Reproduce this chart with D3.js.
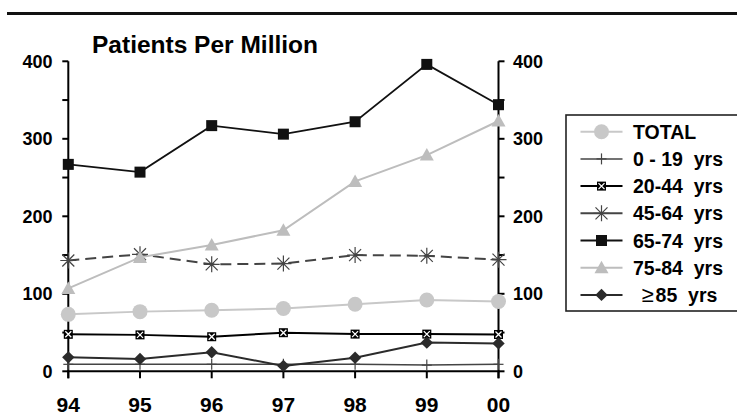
<!DOCTYPE html>
<html>
<head>
<meta charset="utf-8">
<script src="https://cdn.jsdelivr.net/npm/d3@7"></script>
<style>
  html, body { margin: 0; padding: 0; background: #fff; }
  svg text { font-family: "Liberation Sans", Arial, sans-serif; font-weight: bold; fill: #000; white-space: pre; }
</style>
</head>
<body>
<svg id="chart" width="737" height="416"></svg>
<script>
// Patients per million by age group, 1994-2000
const years = ["94", "95", "96", "97", "98", "99", "00"];
const total   = [73.5, 77, 78.7, 81, 86.5, 92, 90];
const age0_19 = [9, 9, 9, 9, 9, 8, 9];
const age20_44 = [47.7, 47, 44.6, 49.8, 48, 48, 47.5];
const age45_64 = [143, 151, 138, 139, 150, 149, 144];
const age65_74 = [267, 257, 317, 306, 322, 396, 344];
const age75_84 = [107, 147, 163, 182, 245, 279, 323];
const age85plus = [18, 16, 24.5, 7, 17.5, 37, 36];
const majorTicks = [0, 100, 200, 300, 400];
const minorTicks = [50, 150, 250, 350];
const seriesNames = ["TOTAL", "0 - 19  yrs", "20-44  yrs", "45-64  yrs", "65-74  yrs", "75-84  yrs", "85  yrs"];

const svg = d3.select("#chart");

const x = d3.scalePoint().domain(years).range([68.3, 498.5]);
const y = d3.scaleLinear().domain([0, 400]).range([371.3, 61.3]);

// heavy rule across the top
svg.append("line").attr("x1", 7).attr("x2", 737).attr("y1", 13.5).attr("y2", 13.5)
  .attr("stroke", "#111").attr("stroke-width", 3);

// title
svg.append("text").attr("x", 92).attr("y", 52.5).attr("font-size", 24.5).text("Patients Per Million");

// marker shapes
function marker(g, type, px, py) {
  if (type === "circle") {
    g.append("circle").attr("cx", px).attr("cy", py).attr("r", 7.5).attr("fill", "#c8c8c8");
  } else if (type === "plus") {
    g.append("line").attr("x1", px).attr("x2", px).attr("y1", py - 5.5).attr("y2", py + 5.5)
      .attr("stroke", "#444").attr("stroke-width", 1.2);
    g.append("line").attr("x1", px - 5).attr("x2", px + 5).attr("y1", py).attr("y2", py)
      .attr("stroke", "#444").attr("stroke-width", 1.2);
  } else if (type === "xsquare") {
    const s = 4.5;
    g.append("rect").attr("x", px - s).attr("y", py - s).attr("width", 2 * s).attr("height", 2 * s).attr("fill", "#000");
    g.append("path").attr("d", `M${px - 3},${py - 3}L${px + 3},${py + 3}M${px - 3},${py + 3}L${px + 3},${py - 3}`)
      .attr("stroke", "#fff").attr("stroke-width", 1.3);
  } else if (type === "star") {
    const r = 8, d = 6;
    g.append("path").attr("d", `M${px},${py - r}L${px},${py + r}M${px - d},${py - d}L${px + d},${py + d}M${px - d},${py + d}L${px + d},${py - d}M${px - r},${py}L${px + r},${py}`)
      .attr("stroke", "#444").attr("stroke-width", 1.2).attr("fill", "none");
  } else if (type === "square") {
    const s = 5.5;
    g.append("rect").attr("x", px - s).attr("y", py - s).attr("width", 2 * s).attr("height", 2 * s).attr("fill", "#111");
  } else if (type === "triangle") {
    g.append("path").attr("d", `M${px},${py - 7}L${px + 7},${py + 5.5}L${px - 7},${py + 5.5}Z`).attr("fill", "#bdbdbd");
  } else if (type === "diamond") {
    const r = 6.2;
    g.append("path").attr("d", `M${px},${py - r}L${px + r},${py}L${px},${py + r}L${px - r},${py}Z`).attr("fill", "#2b2b2b");
  }
}

const series = [
  { name: seriesNames[0], values: total,     color: "#c8c8c8", width: 2,   dash: null,   mark: "circle" },
  { name: seriesNames[1], values: age0_19,   color: "#444",    width: 1.5, dash: null,   mark: "plus" },
  { name: seriesNames[2], values: age20_44,  color: "#000",    width: 2,   dash: null,   mark: "xsquare" },
  { name: seriesNames[3], values: age45_64,  color: "#444",    width: 2,   dash: "11,6", mark: "star" },
  { name: seriesNames[4], values: age65_74,  color: "#111",    width: 1.8, dash: null,   mark: "square" },
  { name: seriesNames[5], values: age75_84,  color: "#bdbdbd", width: 2,   dash: null,   mark: "triangle" },
  { name: seriesNames[6], values: age85plus, color: "#2b2b2b", width: 2,   dash: null,   mark: "diamond" }
];

// axes
const axisG = svg.append("g");
axisG.append("line").attr("x1", x(years[0])).attr("x2", x(years[0])).attr("y1", y(400)).attr("y2", y(0) + 7)
  .attr("stroke", "#000").attr("stroke-width", 2);
axisG.append("line").attr("x1", x(years[6])).attr("x2", x(years[6])).attr("y1", y(400)).attr("y2", y(0) + 7)
  .attr("stroke", "#000").attr("stroke-width", 2);
axisG.append("line").attr("x1", x(years[0]) - 1).attr("x2", x(years[6]) + 1).attr("y1", y(0)).attr("y2", y(0))
  .attr("stroke", "#000").attr("stroke-width", 2);

[...majorTicks, ...minorTicks].forEach(v => {
  axisG.append("line").attr("x1", x(years[0]) - 6).attr("x2", x(years[0])).attr("y1", y(v)).attr("y2", y(v))
    .attr("stroke", "#000").attr("stroke-width", 2);
  axisG.append("line").attr("x1", x(years[6])).attr("x2", x(years[6]) + 6).attr("y1", y(v)).attr("y2", y(v))
    .attr("stroke", "#000").attr("stroke-width", 2);
});
majorTicks.forEach(v => {
  axisG.append("text").attr("x", 52.5).attr("y", y(v) + 6.3).attr("text-anchor", "end").attr("font-size", 18).text(v);
  axisG.append("text").attr("x", 513).attr("y", y(v) + 6.3).attr("font-size", 18).text(v);
});
years.forEach(yr => {
  axisG.append("line").attr("x1", x(yr)).attr("x2", x(yr)).attr("y1", y(0)).attr("y2", y(0) + 7)
    .attr("stroke", "#000").attr("stroke-width", 2);
  axisG.append("text").attr("x", x(yr)).attr("y", 411.5).attr("text-anchor", "middle").attr("font-size", 21).text(yr);
});

// series lines and markers
const line = d3.line().x((d, i) => x(years[i])).y(d => y(d));
series.forEach(s => {
  const g = svg.append("g");
  g.append("path").attr("d", line(s.values)).attr("fill", "none").attr("stroke", s.color)
    .attr("stroke-width", s.width).attr("stroke-dasharray", s.dash);
  s.values.forEach((v, i) => marker(g, s.mark, x(years[i]), y(v)));
});

// legend
const lg = svg.append("g");
lg.append("rect").attr("x", 566).attr("y", 115).attr("width", 180).attr("height", 196)
  .attr("fill", "#fff").attr("stroke", "#222").attr("stroke-width", 1.6);
series.forEach((s, i) => {
  const ly = 131.7 + i * 27.2;
  lg.append("line").attr("x1", 580.5).attr("x2", 622.5).attr("y1", ly).attr("y2", ly)
    .attr("stroke", s.color).attr("stroke-width", s.width);
  marker(lg, s.mark, 601.5, ly);
  const t = lg.append("text").attr("y", ly + 7).attr("font-size", 19.5);
  if (i === 6) {
    t.attr("x", 641.5);
    t.append("tspan").attr("font-weight", "normal").attr("font-size", 22).text("\u2265");
    t.append("tspan").attr("dx", 2).text(s.name);
  } else {
    t.attr("x", 633).text(s.name);
  }
});
</script>
</body>
</html>
